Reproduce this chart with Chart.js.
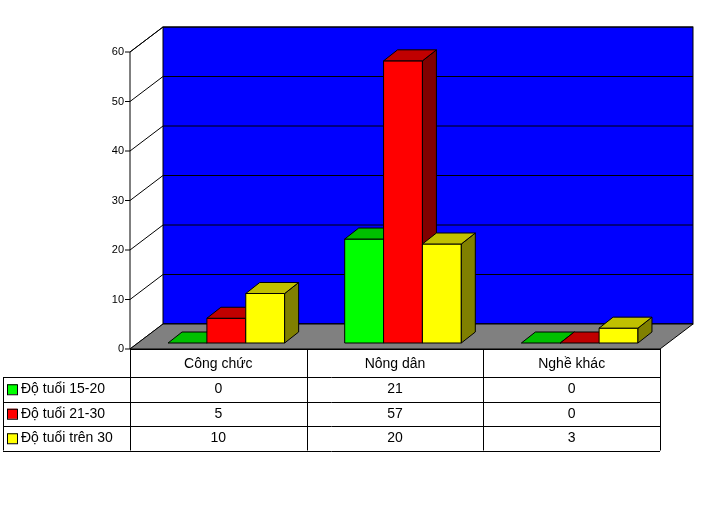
<!DOCTYPE html>
<html>
<head>
<meta charset="utf-8">
<script src="https://cdn.jsdelivr.net/npm/chart.js@4"></script>
<style>body{margin:0;background:#fff}</style>
</head>
<body>
<canvas id="myChart" width="704" height="519"></canvas>
<script>
const categories = ["Công chức", "Nông dân", "Nghề khác"];
const seriesNames = ["Độ tuổi 15-20", "Độ tuổi 21-30", "Độ tuổi trên 30"];
const age1520 = [0, 21, 0];
const age2130 = [5, 57, 0];
const ageOver30 = [10, 20, 3];
const yTicks = [0, 10, 20, 30, 40, 50, 60];

const fronts = ["#00ff00", "#ff0000", "#ffff00"];
const tops = ["#00c000", "#c00000", "#c0c000"];
const sides = ["#008000", "#800000", "#808000"];
const DX = 33, DY = -25; // wall depth
const BX = 14, BY = -11; // bar depth
const SX = 8, SY = -6;   // bar offset into depth

function poly(ctx, pts, fill) {
  ctx.beginPath();
  ctx.moveTo(pts[0][0], pts[0][1]);
  for (let i = 1; i < pts.length; i++) ctx.lineTo(pts[i][0], pts[i][1]);
  ctx.closePath();
  ctx.fillStyle = fill;
  ctx.fill();
  ctx.stroke();
}

const threeD = {
  id: "threeD",
  beforeDatasetsDraw(chart) {
    const ctx = chart.ctx;
    const { left, right, top, bottom } = chart.chartArea;
    const y = chart.scales.y;
    ctx.save();
    ctx.strokeStyle = "#000";
    ctx.lineWidth = 1;
    // back wall
    ctx.fillStyle = "#0000ff";
    ctx.fillRect(left + DX, top + DY, right - left, bottom - top);
    ctx.strokeRect(left + DX, top + DY, right - left, bottom - top);
    // grid lines
    yTicks.forEach((v) => {
      const py = y.getPixelForValue(v);
      ctx.beginPath();
      ctx.moveTo(left - 5, py);
      ctx.lineTo(left, py);
      ctx.lineTo(left + DX, py + DY);
      ctx.lineTo(right + DX, py + DY);
      ctx.stroke();
    });
    // left axis edges
    ctx.beginPath();
    ctx.moveTo(left, bottom);
    ctx.lineTo(left, top);
    ctx.lineTo(left + DX, top + DY);
    ctx.stroke();
    // floor
    poly(ctx, [[left, bottom], [right, bottom], [right + DX, bottom + DY], [left + DX, bottom + DY]], "#808080");
    // tick labels
    ctx.fillStyle = "#000";
    ctx.font = "11px Arial";
    ctx.textAlign = "right";
    ctx.textBaseline = "middle";
    yTicks.forEach((v) => ctx.fillText(String(v), left - 6, y.getPixelForValue(v)));
    ctx.restore();
  },
  afterDatasetsDraw(chart) {
    const ctx = chart.ctx;
    ctx.save();
    ctx.translate(SX, SY);
    ctx.strokeStyle = "#000";
    ctx.lineWidth = 1;
    for (let c = 0; c < categories.length; c++) {
      for (let d = 0; d < chart.data.datasets.length; d++) {
        const el = chart.getDatasetMeta(d).data[c];
        const x0 = el.x - el.width / 2, x1 = el.x + el.width / 2;
        const yt = el.y, yb = el.base;
        if (yb - yt > 0.5) poly(ctx, [[x0, yt], [x1, yt], [x1, yb], [x0, yb]], fronts[d]);
        poly(ctx, [[x1, yt], [x1 + BX, yt + BY], [x1 + BX, yb + BY], [x1, yb]], sides[d]);
        poly(ctx, [[x0, yt], [x1, yt], [x1 + BX, yt + BY], [x0 + BX, yt + BY]], tops[d]);
      }
    }
    ctx.restore();
  },
  afterDraw(chart) {
    const ctx = chart.ctx;
    const { left, right, bottom } = chart.chartArea;
    const colW = (right - left) / categories.length;
    const rows = [age1520, age2130, ageOver30];
    const hdrTop = bottom + 2, hdrH = 26, rowH = 24.5;
    ctx.save();
    ctx.strokeStyle = "#000";
    ctx.lineWidth = 1;
    ctx.fillStyle = "#000";
    ctx.font = "14px Arial";
    ctx.textBaseline = "middle";
    ctx.textAlign = "center";
    const tblBottom = hdrTop + hdrH + rowH * 3;
    for (let i = 0; i <= categories.length; i++) {
      const x = Math.round(left + colW * i) + 0.5;
      ctx.beginPath(); ctx.moveTo(x, bottom); ctx.lineTo(x, tblBottom); ctx.stroke();
    }
    ctx.beginPath(); ctx.moveTo(3.5, hdrTop + hdrH); ctx.lineTo(3.5, tblBottom); ctx.stroke();
    ctx.beginPath(); ctx.moveTo(left, bottom + 0.5); ctx.lineTo(right, bottom + 0.5); ctx.stroke();
    for (let r = 0; r <= 3; r++) {
      const yy = Math.round(hdrTop + hdrH + rowH * r) + 0.5;
      ctx.beginPath(); ctx.moveTo(3, yy); ctx.lineTo(right, yy); ctx.stroke();
    }
    categories.forEach((c, i) => ctx.fillText(c, left + colW * (i + 0.5), hdrTop + hdrH / 2));
    rows.forEach((vals, r) => {
      const cy = hdrTop + hdrH + rowH * (r + 0.5);
      vals.forEach((v, i) => ctx.fillText(String(v), left + colW * (i + 0.5), cy));
      ctx.fillStyle = fronts[r];
      ctx.fillRect(7, cy - 5, 10, 10);
      ctx.strokeRect(7.5, cy - 4.5, 10, 10);
      ctx.fillStyle = "#000";
      ctx.textAlign = "left";
      ctx.fillText(seriesNames[r], 21, cy);
      ctx.textAlign = "center";
    });
    ctx.restore();
  },
};

new Chart(document.getElementById("myChart"), {
  type: "bar",
  data: {
    labels: categories,
    datasets: [
      { label: seriesNames[0], data: age1520, backgroundColor: "rgba(0,0,0,0)" },
      { label: seriesNames[1], data: age2130, backgroundColor: "rgba(0,0,0,0)" },
      { label: seriesNames[2], data: ageOver30, backgroundColor: "rgba(0,0,0,0)" },
    ],
  },
  options: {
    responsive: false,
    animation: false,
    categoryPercentage: 0.66,
    barPercentage: 1,
    layout: { padding: { left: 130, right: 44, top: 52, bottom: 170 } },
    plugins: { legend: { display: false }, tooltip: { enabled: false } },
    scales: {
      x: { display: false },
      y: { display: false, min: 0, max: 60 },
    },
  },
  plugins: [threeD],
});
</script>
</body>
</html>
